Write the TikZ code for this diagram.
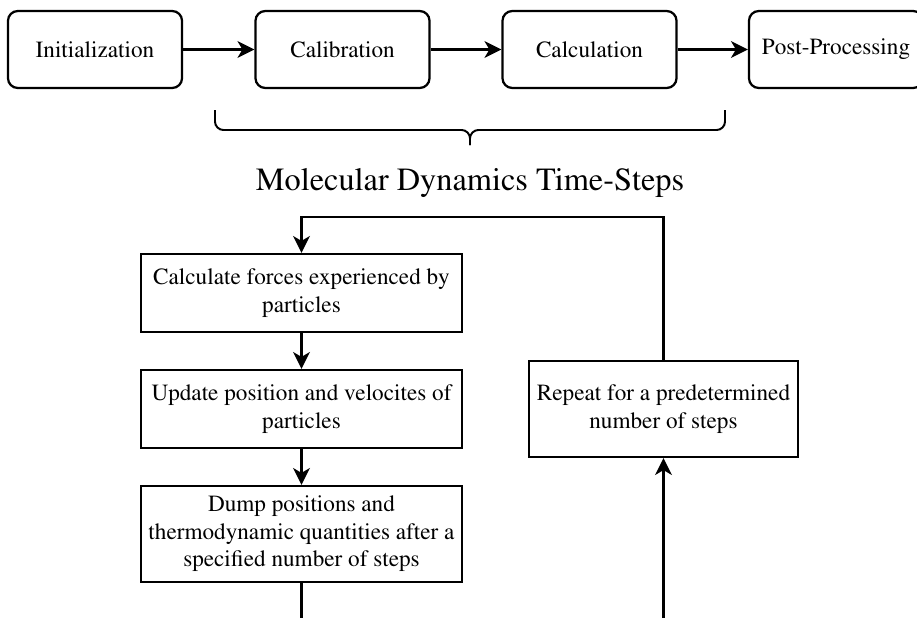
\documentclass[tikz,border=0pt]{standalone}
\usepackage[T1]{fontenc}
\usepackage{mathptmx}
\usetikzlibrary{arrows.meta}
\begin{document}
\begin{tikzpicture}[x=0.025cm,y=-0.025cm,line width=1.6pt,
  >={Stealth[length=12pt,width=12pt,inset=3.5pt]},
  stage/.style={draw,rounded corners=7pt,minimum width=4.35cm,minimum height=1.925cm,
    inner sep=0pt,font=\fontsize{16.5}{19.5}\selectfont},
  task/.style={draw,minimum width=8.025cm,minimum height=1.95cm,align=center,
    inner sep=0pt,font=\fontsize{16.5}{19.5}\selectfont}]
\useasboundingbox (0,0) rectangle (917,618);
\node[stage] (init) at (95,49.5) {Initialization};
\node[stage] (calib) at (342.5,49.5) {Calibration};
\node[stage] (calc) at (589.5,49.5) {Calculation};
\node[stage] (post) at (836,49.5) {Post-Processing};
\draw[->] (init) -- (calib);
\draw[->] (calib) -- (calc);
\draw[->] (calc) -- (post);
\draw[line width=1.4pt,rounded corners=6pt] (215,110) -- (215,130) -- (470,130) -- (470,145);
\draw[line width=1.4pt,rounded corners=6pt] (725,110) -- (725,130) -- (470,130) -- (470,145);
\node[font=\fontsize{23}{27}\selectfont] (title) at (470,183) {Molecular Dynamics Time-Steps};
\node[task] (forces) at (301.5,293) {Calculate forces experienced by\\particles};
\node[task] (update) at (301.5,409) {Update position and velocites of\\particles};
\node[task,minimum height=2.4cm] (dump) at (301.5,534) {Dump positions and\\thermodynamic quantities after a\\specified number of steps};
\node[task,minimum width=6.725cm,minimum height=2.4cm] (repeat) at (663.5,409) {Repeat for a predetermined\\number of steps};
\coordinate (top) at (663.5,217);
\coordinate (out) at (301.5,625);
\coordinate (in) at (663.5,625);
\draw[->] (forces) -- (update);
\draw[->] (update) -- (dump);
\draw (dump) -- (out);
\draw[->] (in) -- (repeat);
\draw[->] (repeat) -- (top) -| (forces);
\end{tikzpicture}
\end{document}
